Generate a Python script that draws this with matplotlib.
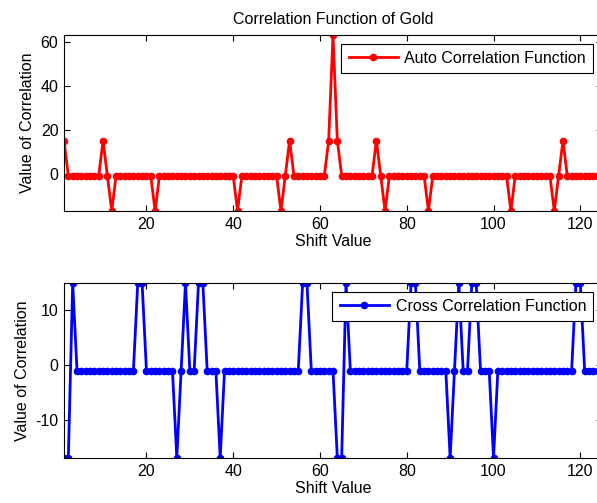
import matplotlib
matplotlib.use('Agg')
import matplotlib.pyplot as plt
import numpy as np

plt.rcParams['font.family'] = ['Liberation Sans', 'DejaVu Sans']
plt.rcParams['axes.unicode_minus'] = False

# shift values 1..125, circular correlation of a length-63 Gold code
shift = np.arange(1, 126)

# auto correlation: -1 everywhere except these shifts
auto_special = {1: 15, 10: 15, 12: -17, 22: -17, 41: -17, 51: -17, 53: 15,
                62: 15, 63: 63, 64: 15, 73: 15, 75: -17, 85: -17, 104: -17,
                114: -17, 116: 15, 125: 15}
auto_corr = [auto_special.get(s, -1) for s in shift]

# cross correlation: -1 everywhere except these shifts
cross_special = {1: -17, 2: -17, 3: 15, 18: 15, 19: 15, 27: -17, 29: 15,
                 32: 15, 33: 15, 37: -17, 56: 15, 57: 15,
                 64: -17, 65: -17, 66: 15, 81: 15, 82: 15, 90: -17, 92: 15,
                 95: 15, 96: 15, 100: -17, 119: 15, 120: 15}
cross_corr = [cross_special.get(s, -1) for s in shift]

fs = 11.5
fig = plt.figure(figsize=(5.97, 5.03), dpi=100)
W, H = 597.0, 503.0
ax1 = fig.add_axes([64 / W, 1 - 211 / H, (602 - 64) / W, (211 - 35) / H])
ax2 = fig.add_axes([64 / W, 1 - 458 / H, (602 - 64) / W, (458 - 283) / H])

ax1.plot(shift, auto_corr, '-o', color='red', lw=2, ms=4.5,
         label='Auto Correlation Function')
ax1.set_xlim(1, 125)
ax1.set_ylim(-17, 63)
ax1.set_yticks([0, 20, 40, 60])
ax1.set_title('Correlation Function of Gold', fontsize=fs, pad=8)

ax2.plot(shift, cross_corr, '-o', color='blue', lw=2, ms=4.5,
         label='Cross Correlation Function')
ax2.set_xlim(1, 125)
ax2.set_ylim(-17, 15)
ax2.set_yticks([-10, 0, 10])

for ax in (ax1, ax2):
    ax.set_xticks([20, 40, 60, 80, 100, 120])
    ax.set_xlabel('Shift Value', fontsize=fs, labelpad=2)
    ax.set_ylabel('Value of Correlation', fontsize=fs, labelpad=4)
    ax.tick_params(direction='in', top=True, right=True, length=4,
                   labelsize=fs, width=0.8, pad=4)
    for sp in ax.spines.values():
        sp.set_linewidth(0.8)
    leg = ax.legend(loc='upper right', fontsize=fs, fancybox=False,
                    framealpha=1, edgecolor='black', borderaxespad=0.55,
                    handlelength=3.1, handletextpad=0.4, borderpad=0.45)
    leg.get_frame().set_linewidth(0.8)

fig.savefig('out.png', dpi=100)
